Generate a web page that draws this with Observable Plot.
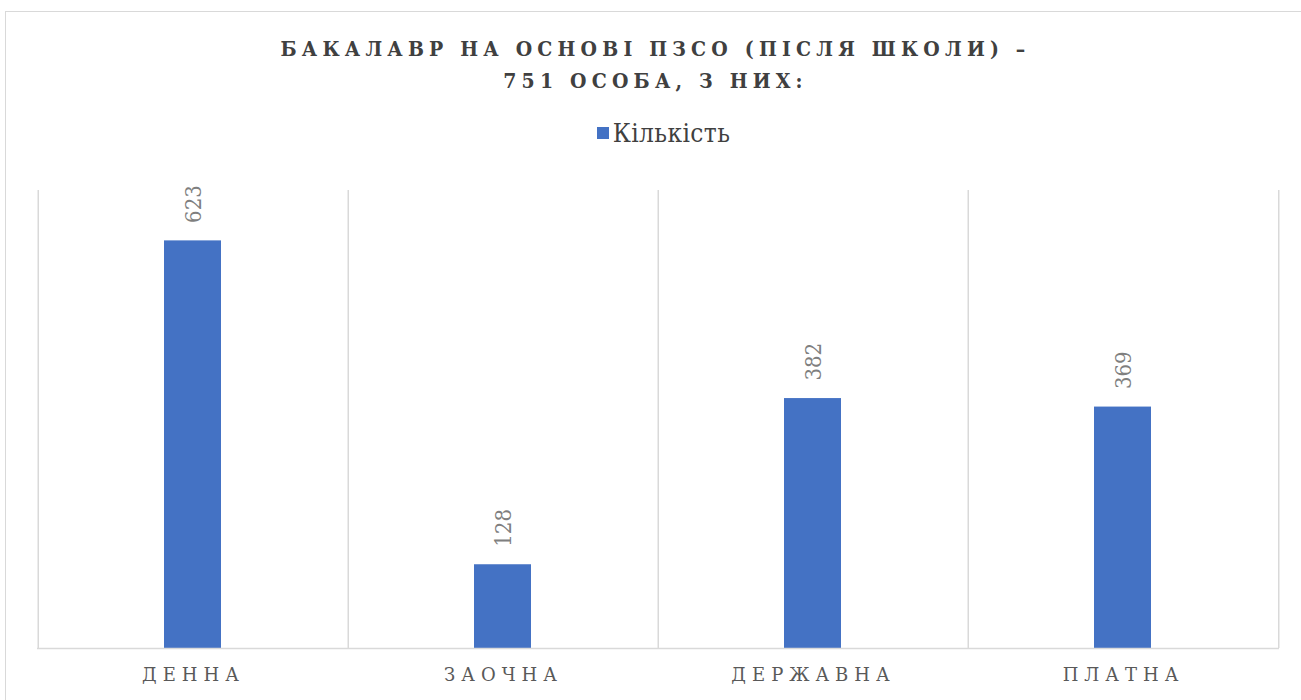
<!DOCTYPE html>
<html><head><meta charset="utf-8">
<script src="https://cdn.jsdelivr.net/npm/d3@7"></script>
<script src="https://cdn.jsdelivr.net/npm/@observablehq/plot@0.6"></script>
<style>
html,body{margin:0;padding:0;background:#fff;width:1301px;height:700px;overflow:hidden;}
#frame{position:absolute;left:5px;top:11px;width:1320px;height:720px;border:1px solid #d9d9d9;box-sizing:border-box;}
#title{position:absolute;left:0;top:33px;width:1311px;text-align:center;font-family:"DejaVu Serif Condensed","DejaVu Serif",serif;font-weight:bold;font-size:21px;letter-spacing:5.2px;color:#404040;line-height:32px;}
#legend{position:absolute;left:13px;top:118px;width:1301px;text-align:center;font-family:"DejaVu Serif Condensed","DejaVu Serif",serif;font-size:26px;letter-spacing:0.4px;line-height:30px;color:#404040;}
#legend .sw{display:inline-block;width:12px;height:12px;background:#4472C4;margin-right:4px;vertical-align:3px;}
#chart{position:absolute;left:0;top:150px;}
</style></head>
<body>
<div id="frame"></div>
<div id="title">БАКАЛАВР НА ОСНОВІ ПЗСО (ПІСЛЯ ШКОЛИ) –<br>751 ОСОБА, З НИХ:</div>
<div id="legend"><span class="sw"></span>Кількість</div>
<div id="chart"></div>
<script>
const categories = ["ДЕННА", "ЗАОЧНА", "ДЕРЖАВНА", "ПЛАТНА"];
const values = [623, 128, 382, 369];
const seriesName = "Кількість";

const data = categories.map((c, i) => ({category: c, value: values[i]}));
const W = 1301, H = 550;
const mL = 37, mR = 22;
const half = (W - mL - mR) / categories.length / 2;
const serif = "'DejaVu Serif', serif";

const plot = Plot.plot({
  width: W, height: H,
  marginLeft: mL, marginRight: mR, marginTop: 40, marginBottom: 52,
  x: {domain: categories, padding: 0, label: null},
  y: {domain: [0, 700], axis: null},
  style: {background: "transparent"},
  marks: [
    Plot.ruleX(categories, {x: d => d, dx: -half, stroke: "#d9d9d9", strokeWidth: 1.5, strokeOpacity: 1}),
    Plot.ruleX([categories[categories.length - 1]], {x: d => d, dx: half, stroke: "#d9d9d9", strokeWidth: 1.5, strokeOpacity: 1}),
    Plot.barY(data, {x: "category", y: "value", fill: "#4472C4", insetLeft: 126, insetRight: 127}),
    Plot.ruleY([0], {stroke: "#d9d9d9", strokeWidth: 1.5}),
    Plot.text(data, {x: "category", y: "value", text: d => String(d.value), rotate: -90, textAnchor: "start", dy: -18, fill: "#7f7f7f", fontSize: 22, fontFamily: "'DejaVu Serif Condensed', 'DejaVu Serif', serif"}),
    Plot.axisX({tickSize: 0, tickPadding: 20, fontSize: 18, fontFamily: serif, fill: "#595959", label: null})
  ]
});
d3.select(plot).selectAll("[aria-label='x-axis tick label'] text").style("letter-spacing", "6px");
document.getElementById("chart").appendChild(plot);
</script>
</body></html>
